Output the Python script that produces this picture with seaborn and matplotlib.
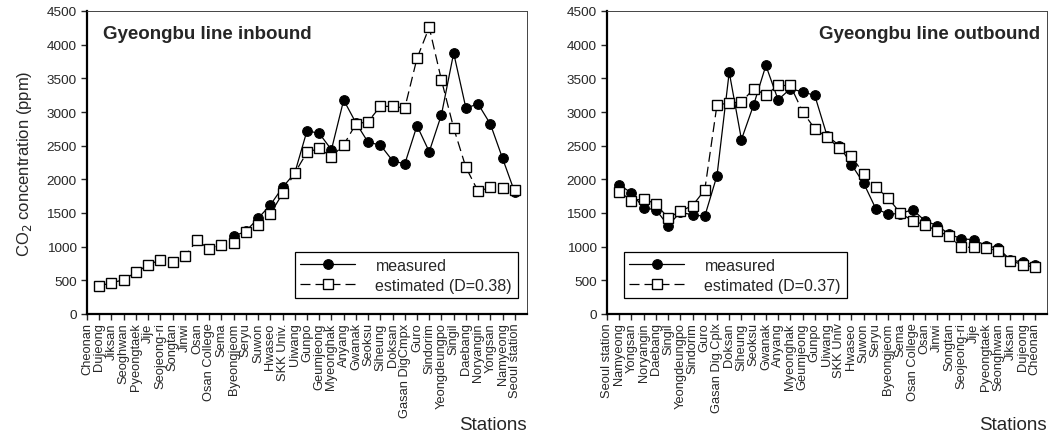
import numpy as np
import pandas as pd
import matplotlib
matplotlib.use('Agg')
import matplotlib.pyplot as plt
import seaborn as sns

nan = np.nan

# station order for each direction
stations_in = ['Cheonan', 'Dujeong', 'Jiksan', 'Seoghwan', 'Pyeongtaek', 'Jije', 'Seojeong-ri',
               'Songtan', 'Jinwi', 'Osan', 'Osan College', 'Sema', 'Byeongjeom', 'Seryu', 'Suwon',
               'Hwaseo', 'SKK Univ.', 'Uiwang', 'Gunpo', 'Geumjeong', 'Myeonghak', 'Anyang', 'Gwanak',
               'Seoksu', 'Siheung', 'Doksan', 'Gasan DigCmpx', 'Guro', 'Sindorim', 'Yeongdeungpo',
               'Singil', 'Daebang', 'Noryangin', 'Yongsan', 'Namyeong', 'Seoul station']
stations_out = ['Seoul station', 'Namyeong', 'Yongsan', 'Noryangin', 'Daebang', 'Singil',
                'Yeongdeungpo', 'Sindorim', 'Guro', 'Gasan Dig.Cplx', 'Doksan', 'Siheung', 'Seoksu',
                'Gwanak', 'Anyang', 'Myeonghak', 'Geumjeong', 'Gunpo', 'Uiwang', 'SKK Univ', 'Hwaseo',
                'Suwon', 'Seryu', 'Byeongjeom', 'Sema', 'Osan College', 'Osan', 'Jinwi', 'Songtan',
                'Seojeong-ri', 'Jije', 'Pyeongtaek', 'Seonghwan', 'Jiksan', 'Dujeong', 'Cheonan']

# CO2 (ppm)
inbound_measured = [nan] * 12 + [1154, 1230, 1421, 1619, 1880, 2094, 2722, 2683, 2440, 3178, 2840,
                                 2550, 2510, 2277, 2228, 2797, 2410, 2960, 3876, 3059, 3119, 2822,
                                 2312, 1807]
inbound_estimated = [nan, 420, 460, 510, 620, 728, 806, 768, 857, 1094, 965, 1029, 1049, 1213, 1322,
                     1485, 1790, 2094, 2401, 2460, 2336, 2510, 2822, 2856, 3084, 3084, 3059, 3797,
                     4257, 3475, 2762, 2178, 1822, 1881, 1866, 1846]
outbound_measured = [nan, 1918, 1799, 1571, 1551, 1313, 1511, 1472, 1452, 2056, 3592, 2591, 3107,
                     3691, 3181, 3345, 3300, 3246, 2650, 2502, 2219, 1943, 1561, 1486, 1490, 1551,
                     1387, 1313, 1189, 1115, 1105, 1016, 976, 807, 768, 733]
outbound_estimated = [nan, 1818, 1684, 1709, 1635, 1427, 1527, 1610, 1843, 3107, 3132, 3147, 3345,
                      3255, 3394, 3394, 3007, 2750, 2626, 2463, 2344, 2081, 1883, 1724, 1497, 1387,
                      1323, 1238, 1155, 991, 991, 976, 941, 792, 733, 694]

panels = [
    ('Gyeongbu line inbound', stations_in, inbound_measured, inbound_estimated, 'D=0.38'),
    ('Gyeongbu line outbound', stations_out, outbound_measured, outbound_estimated, 'D=0.37'),
]

sns.set_style('ticks')
plt.rcParams['font.family'] = ['Liberation Sans', 'DejaVu Sans']

fig = plt.figure(figsize=(10.55, 4.35), dpi=100)
axes = [fig.add_axes([87 / 1055, 120 / 435, 440 / 1055, 303 / 435]),
        fig.add_axes([607 / 1055, 120 / 435, 440 / 1055, 303 / 435])]

for i, (ax, (title, stations, meas, est, dlab)) in enumerate(zip(axes, panels)):
    df = pd.DataFrame({'pos': np.arange(len(stations)), 'measured': meas, 'estimated': est})
    sns.lineplot(data=df, x='pos', y='measured', ax=ax, color='black', lw=0.9,
                 marker='o', markersize=7, markerfacecolor='black', markeredgecolor='black',
                 label='measured', sort=False, estimator=None)
    sns.lineplot(data=df, x='pos', y='estimated', ax=ax, color='black', lw=0.9,
                 marker='s', markersize=7.5, markerfacecolor='white', markeredgecolor='black',
                 markeredgewidth=1.0, dashes=(8, 4), label='estimated (%s)' % dlab,
                 sort=False, estimator=None)

    ax.set_xlim(0, 36)
    ax.set_ylim(0, 4500)
    ax.set_yticks(np.arange(0, 4501, 500))
    ax.set_xticks(np.arange(len(stations)))
    ax.set_xticklabels(stations, rotation=90, fontsize=9.3)
    ax.tick_params(axis='y', labelsize=9.7, length=4, width=1, direction='out')
    ax.tick_params(axis='x', length=4, width=1, direction='out', pad=2)
    ax.set_xlabel('')
    ax.set_ylabel('')
    for s in ['left', 'bottom']:
        ax.spines[s].set_linewidth(1.6)
        ax.spines[s].set_color('black')
    for s in ['top', 'right']:
        ax.spines[s].set_linewidth(0.7)
        ax.spines[s].set_color('#444444')

    leg_kw = dict(handlelength=3.4, handletextpad=1.3, borderpad=0.35, labelspacing=0.3,
                  fontsize=11.5, fancybox=False, framealpha=1)
    if i == 0:
        ax.text(0.037, 0.925, title, transform=ax.transAxes, fontsize=13.5,
                fontweight='bold', ha='left', va='center')
        leg = ax.legend(loc='lower right', bbox_to_anchor=(0.997, 0.025), **leg_kw)
        ax.set_ylabel('CO$_2$ concentration (ppm)', fontsize=12, labelpad=9)
    else:
        ax.text(0.985, 0.925, title, transform=ax.transAxes, fontsize=13.5,
                fontweight='bold', ha='right', va='center')
        leg = ax.legend(loc='lower left', bbox_to_anchor=(0.02, 0.025), **leg_kw)
    leg.get_frame().set_edgecolor('black')
    leg.get_frame().set_linewidth(0.9)

    ax.text(1.0, -0.365, 'Stations', transform=ax.transAxes, fontsize=13.5,
            ha='right', va='center')

fig.savefig('out.png', dpi=100)
